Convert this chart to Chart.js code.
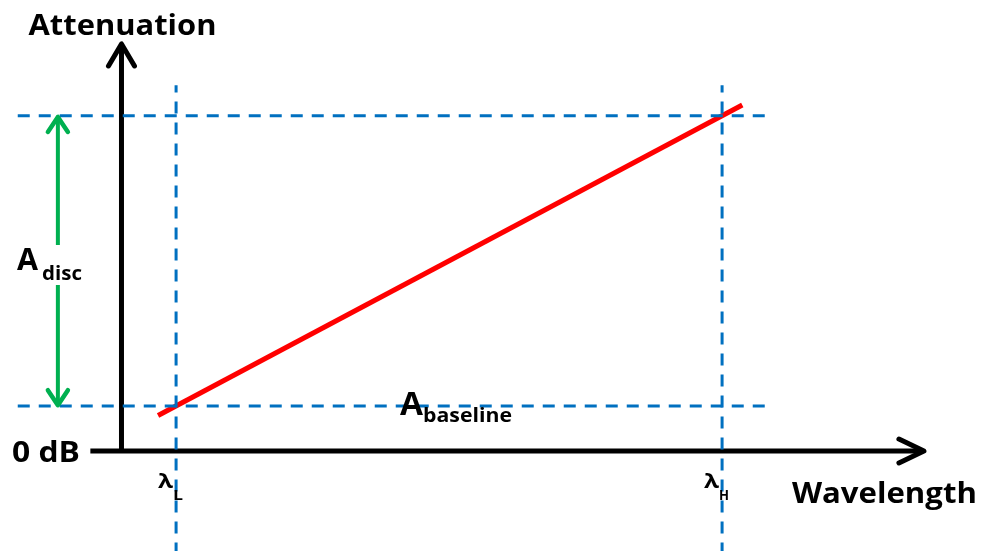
<!DOCTYPE html>
<html>
<head>
<meta charset="utf-8">
<script src="https://cdn.jsdelivr.net/npm/chart.js@4/dist/chart.umd.min.js"></script>
<style>
	html, body { margin: 0; padding: 0; background: #fff; }
	#wrap { width: 984px; height: 551px; position: relative; }
</style>
</head>
<body>
<div id="wrap"><canvas id="myChart"></canvas></div>
<script>
// Длины волн (условные единицы)
const lambdaL = 1;
const lambdaH = 11;
const lambdaLabels = [['λ', 'L'], ['λ', 'H']];

// Затухание (условные единицы)
const attBaseline = 1;
const attTop = 7.45;

// Красная линия затухания
const redX = [0.67, 11.37];
const redY = [0.79, 7.69];

// Оси
const axisX = [-0.57, 14.66];
const axisY = [0, 9.0];

// Пунктирные направляющие
const guideX = [-1.9, 11.8];
const guideY = [-2.3, 8.13];

// Зелёная стрелка A_disc
const discX = -1.165;
const discTop = [7.4, 4.58];
const discBottom = [3.69, 1.04];

const BLUE = '#0070C0';
const GREEN = '#00B050';
const FONT = '"Open Sans", Lato, sans-serif';

const pts = (xs, ys) => xs.map((x, i) => ({ x: x, y: ys[i] }));

const dashed = (data) => ({
	data: data,
	borderColor: BLUE,
	borderWidth: 3,
	borderDash: [12, 9],
	order: 1
});

const datasets = [
	{ data: pts(axisX, [0, 0]), borderColor: '#000', borderWidth: 5, order: 3 },
	{ data: pts([0, 0], axisY), borderColor: '#000', borderWidth: 5, order: 3 },
	{ data: pts(redX, redY), borderColor: '#FF0000', borderWidth: 5, order: 2 },
	dashed(pts(guideX, [attTop, attTop])),
	dashed(pts(guideX, [attBaseline, attBaseline])),
	dashed(pts([lambdaL, lambdaL], guideY)),
	dashed(pts([lambdaH, lambdaH], guideY)),
	{ data: pts([discX, discX], discTop), borderColor: GREEN, borderWidth: 4, order: 1 },
	{ data: pts([discX, discX], discBottom), borderColor: GREEN, borderWidth: 4, order: 1 }
];

// Текст, подогнанный по ширине
function fitText(ctx, text, x, y, size, width) {
	ctx.save();
	ctx.font = 'bold ' + size + 'px ' + FONT;
	const w = ctx.measureText(text).width;
	ctx.translate(x, y);
	ctx.scale(width / w, 1);
	ctx.fillText(text, 0, 0);
	ctx.restore();
}

function chevron(ctx, tx, ty, dx, dy, back, half, color, lw) {
	// dx, dy - направление стрелки
	const px = -dy, py = dx;
	ctx.save();
	ctx.strokeStyle = color;
	ctx.lineWidth = lw;
	ctx.lineCap = 'round';
	ctx.lineJoin = 'round';
	ctx.beginPath();
	ctx.moveTo(tx - dx * back + px * half, ty - dy * back + py * half);
	ctx.lineTo(tx, ty);
	ctx.lineTo(tx - dx * back - px * half, ty - dy * back - py * half);
	ctx.stroke();
	ctx.restore();
}

const overlay = {
	id: 'overlay',
	afterDatasetsDraw(chart) {
		const ctx = chart.ctx;
		const sx = chart.scales.x, sy = chart.scales.y;
		const X = v => sx.getPixelForValue(v);
		const Y = v => sy.getPixelForValue(v);

		// Стрелки осей
		chevron(ctx, X(0), Y(axisY[1]) - 2, 0, -1, 22, 13, '#000', 5);
		chevron(ctx, X(axisX[1]) + 2, Y(0), 1, 0, 25, 12, '#000', 5);

		// Зелёные стрелки
		chevron(ctx, X(discX), Y(discTop[0]) - 1, 0, -1, 15, 10, GREEN, 4.5);
		chevron(ctx, X(discX), Y(discBottom[1]) + 1, 0, 1, 15, 10, GREEN, 4.5);

		ctx.fillStyle = '#000';
		ctx.textBaseline = 'alphabetic';
		ctx.textAlign = 'left';

		fitText(ctx, 'Attenuation', X(0) - 93, 35, 28, 188);
		fitText(ctx, 'Wavelength', X(axisX[1]) - 130, Y(0) + 52, 28, 185);
		fitText(ctx, '0 dB', 12, Y(0) + 11, 29, 68);

		// Подписи длин волн
		[lambdaL, lambdaH].forEach((v, i) => {
			const lx = X(v);
			fitText(ctx, lambdaLabels[i][0], lx - 18, Y(0) + 37, 20, 15);
			fitText(ctx, lambdaLabels[i][1], lx - 3, Y(0) + 49, 14, 10);
		});

		// A_disc
		fitText(ctx, 'A', 17, 270, 30, 21);
		fitText(ctx, 'disc', 42, 280, 20, 40);

		// A_baseline
		fitText(ctx, 'A', 400, Y(attBaseline) + 9, 33, 23);
		fitText(ctx, 'baseline', 423, Y(attBaseline) + 16, 20, 89);
	}
};

const config = {
	type: 'scatter',
	data: { datasets: datasets },
	options: {
		responsive: true,
		maintainAspectRatio: false,
		animation: false,
		layout: { padding: 0 },
		elements: {
			point: { radius: 0, hoverRadius: 0 },
			line: { tension: 0, fill: false }
		},
		datasets: {
			scatter: { showLine: true, pointRadius: 0 }
		},
		plugins: {
			legend: { display: false },
			tooltip: { enabled: false }
		},
		scales: {
			x: { type: 'linear', display: false, min: -2.225, max: 15.797 },
			y: { type: 'linear', display: false, min: -2.222, max: 10.022 }
		}
	},
	plugins: [overlay]
};

window.addEventListener('load', () => {
	const elem = document.getElementById('myChart');
	if (elem) {
		const chart = new Chart(elem, config);
	}
});
</script>
</body>
</html>
